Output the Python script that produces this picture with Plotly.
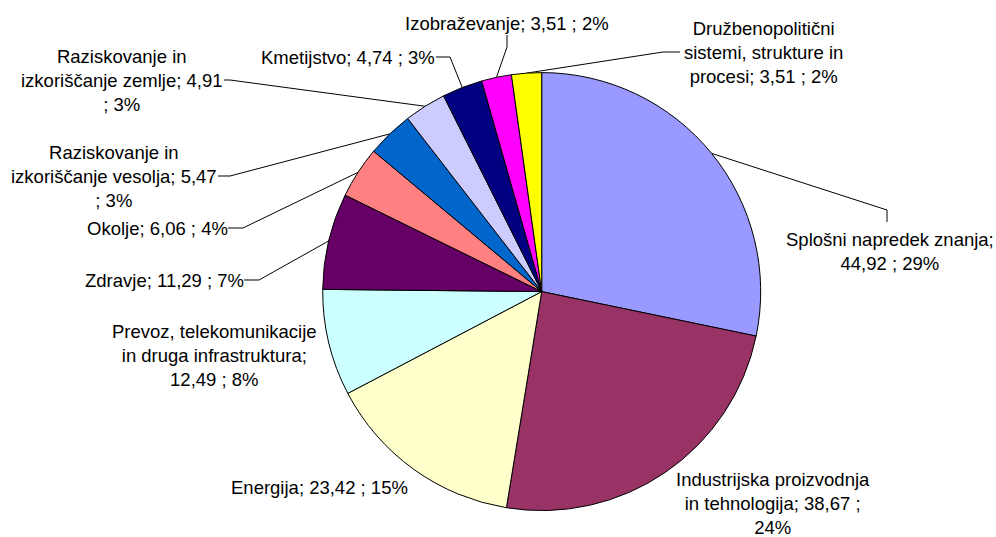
import math
import plotly.graph_objects as go

# ---- data ----
categories = [
    "Splošni napredek znanja",
    "Industrijska proizvodnja in tehnologija",
    "Energija",
    "Prevoz, telekomunikacije in druga infrastruktura",
    "Zdravje",
    "Okolje",
    "Raziskovanje in izkoriščanje vesolja",
    "Raziskovanje in izkoriščanje zemlje",
    "Kmetijstvo",
    "Izobraževanje",
    "Družbenopolitični sistemi, strukture in procesi",
]
values = [44.92, 38.67, 23.42, 12.49, 11.29, 6.06, 5.47, 4.91, 4.74, 3.51, 3.51]
value_labels = ["44,92", "38,67", "23,42", "12,49", "11,29", "6,06", "5,47", "4,91", "4,74", "3,51", "3,51"]
percent_labels = ["29%", "24%", "15%", "8%", "7%", "4%", "3%", "3%", "3%", "2%", "2%"]
label_texts = [
    "Splošni napredek znanja;<br>44,92 ; 29%",
    "Industrijska proizvodnja<br>in tehnologija; 38,67 ;<br>24%",
    "Energija; 23,42 ; 15%",
    "Prevoz, telekomunikacije<br>in druga infrastruktura;<br>12,49 ; 8%",
    "Zdravje; 11,29 ; 7%",
    "Okolje; 6,06 ; 4%",
    "Raziskovanje in<br>izkoriščanje vesolja; 5,47<br>; 3%",
    "Raziskovanje in<br>izkoriščanje zemlje; 4,91<br>; 3%",
    "Kmetijstvo; 4,74 ; 3%",
    "Izobraževanje; 3,51 ; 2%",
    "Družbenopolitični<br>sistemi, strukture in<br>procesi; 3,51 ; 2%",
]
colors = ["#9999FF", "#993366", "#FFFFCC", "#CCFFFF", "#660066", "#FF8080",
          "#0066CC", "#CCCCFF", "#000080", "#FF00FF", "#FFFF00"]

# ---- layout (pixel space) ----
W, H = 996, 537
CX, CY, R = 541.7, 291.6, 219.0

# label centres (px) and label-side leader points (px); None = no leader
label_pos = [
    (890, 251), (773, 503), (319, 487), (214, 355), (164.5, 280), (157, 228),
    (114, 176), (122, 80), (347.5, 57), (507, 23), (763, 52),
]
leader_pts = [
    [(887, 222), (887, 210)],
    None,
    None,
    None,
    [(244, 280), (259, 280)],
    [(228, 228), (243, 228)],
    [(218, 176), (230, 176)],
    [(224, 80), (230, 80)],
    [(436, 57), (450, 57)],
    [(507, 35), (507, 47)],
    [(680, 52), (663, 52)],
]

FONT = dict(family="Liberation Sans, Arial, sans-serif", size=18.5, color="black")

fig = go.Figure()
fig.add_trace(go.Pie(
    labels=categories, values=values, sort=False, direction="clockwise", rotation=0,
    marker=dict(colors=colors, line=dict(color="black", width=1)),
    textinfo="none", hoverinfo="label+value+percent", showlegend=False,
    domain=dict(x=[(CX - R) / W, (CX + R) / W], y=[1 - (CY + R) / H, 1 - (CY - R) / H]),
))

total = sum(values)
cum = 0.0
for i, v in enumerate(values):
    mid = (cum + v / 2) / total * 2 * math.pi
    cum += v
    ex = CX + R * math.sin(mid)
    ey = CY - R * math.cos(mid)
    if leader_pts[i] is not None:
        pts = leader_pts[i] + [(ex, ey)]
        fig.add_trace(go.Scatter(
            x=[p[0] for p in pts], y=[p[1] for p in pts], mode="lines",
            line=dict(color="black", width=1), hoverinfo="skip", showlegend=False,
            xaxis="x", yaxis="y",
        ))
    lx, ly = label_pos[i]
    fig.add_annotation(x=lx, y=ly, xref="x", yref="y", text=label_texts[i],
                       showarrow=False, xanchor="center", yanchor="middle",
                       align="center", font=FONT)

fig.update_layout(
    width=W, height=H, margin=dict(l=0, r=0, t=0, b=0),
    paper_bgcolor="white", plot_bgcolor="rgba(0,0,0,0)",
    xaxis=dict(range=[0, W], visible=False, fixedrange=True),
    yaxis=dict(range=[H, 0], visible=False, fixedrange=True),
)

fig.write_html("out.html", config={"displayModeBar": False},
               post_script="document.body.style.margin='0';document.body.style.overflow='hidden';")
